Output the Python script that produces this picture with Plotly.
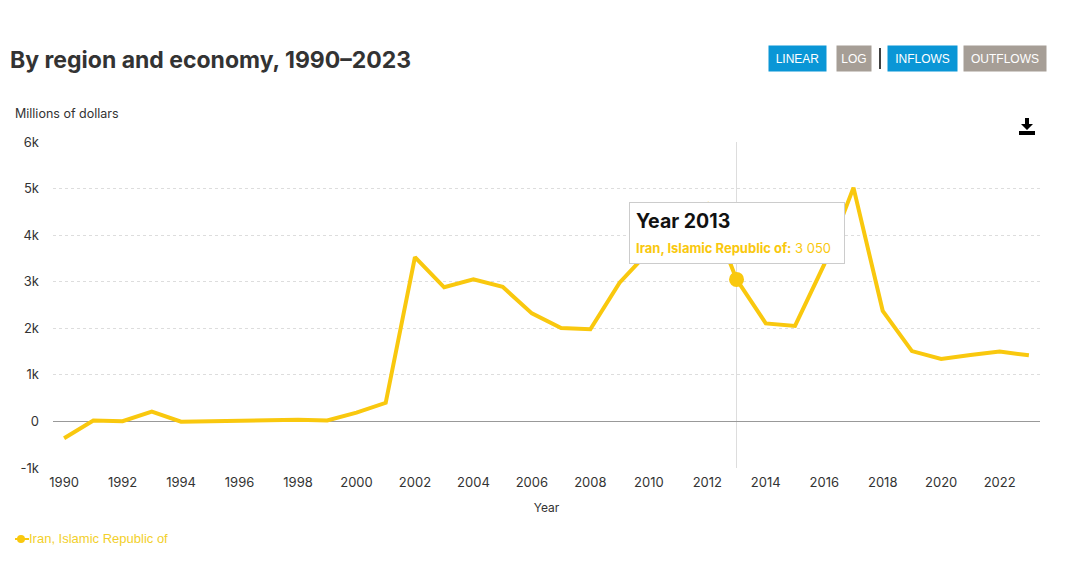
import plotly.graph_objects as go

# Iran FDI inflows, millions of dollars
years = list(range(1990, 2024))
inflows = [-362, 20, 5, 210, -5, 10, 20, 40, 35, 20, 190, 400,
           3530, 2880, 3050, 2890, 2320, 2005, 1980, 2980,
           3650, 4280, 4660, 3050, 2105, 2050, 3370, 5020,
           2375, 1510, 1340, 1425, 1500, 1420]
country = "Iran, Islamic Republic of"
hover_year = 2013
hover_value = 3050

y_ticks = [-1000, 0, 1000, 2000, 3000, 4000, 5000, 6000]
y_ticklabels = ["-1k", "0", "1k", "2k", "3k", "4k", "5k", "6k"]

GOLD = "#f9c80e"
FONT = "Inter, Roboto, sans-serif"

# page has an 8px body margin, so work in screen pixels and shift back
OFF = 8
W, H = 1080 - OFF, 572 - OFF
L, R, T, B = 53, 1040, 142, 468  # plot area on screen


def px(x):
    return (x - L) / (R - L)


def py(y):
    return (B - y) / (B - T)


fig = go.Figure()

fig.add_trace(go.Scatter(x=years, y=inflows, mode="lines", name=country,
                         line=dict(color=GOLD, width=4), showlegend=False,
                         hoverinfo="skip"))

# hovered point
fig.add_trace(go.Scatter(x=[hover_year], y=[hover_value], mode="markers",
                         marker=dict(color=GOLD, size=15), showlegend=False,
                         hoverinfo="skip"))

fig.add_shape(type="line", xref="x", yref="paper", x0=hover_year, x1=hover_year,
              y0=0, y1=1, line=dict(color="#dddddd", width=1), layer="below")

# tooltip
fig.add_annotation(x=hover_year, y=hover_value, xref="x", yref="y",
                   xanchor="center", yanchor="bottom", yshift=15,
                   showarrow=False, align="left", valign="top",
                   width=202, height=48, borderpad=6,
                   bgcolor="white", bordercolor="#cccccc", borderwidth=1,
                   font=dict(family=FONT, size=19.5, color="#111111"),
                   text=f"<b>Year {hover_year}</b><br>"
                        f"<span style='font-size:13px;color:{GOLD}'>"
                        f"<b>{country}:</b> 3 050</span>")

# buttons
buttons = [("LINEAR", 797.5, 57, "#0a96d6"), ("LOG", 854, 32, "#a69e96"),
           ("INFLOWS", 922.5, 69, "#0a96d6"), ("OUTFLOWS", 1005, 82, "#a69e96")]
for label, cx, w, col in buttons:
    fig.add_annotation(x=px(cx), y=py(58.5), xref="paper", yref="paper",
                       xanchor="center", yanchor="middle", showarrow=False,
                       text=label, width=max(w - 8, 26), height=17, borderpad=4,
                       bgcolor=col, font=dict(family="Liberation Sans, Arial", size=12, color="white"))
fig.add_shape(type="line", xref="paper", yref="paper", x0=px(880), x1=px(880),
              y0=py(48), y1=py(69), line=dict(color="black", width=1.5))

# download icon
fig.add_shape(type="path", xref="paper", yref="paper",
              path=(f"M {px(1025)} {py(118)} L {px(1029)} {py(118)} L {px(1029)} {py(124)} "
                    f"L {px(1033)} {py(124)} L {px(1027)} {py(130)} L {px(1021)} {py(124)} "
                    f"L {px(1025)} {py(124)} Z"),
              fillcolor="black", line=dict(width=0))
fig.add_shape(type="rect", xref="paper", yref="paper",
              x0=px(1019), x1=px(1035), y0=py(135), y1=py(131),
              fillcolor="black", line=dict(width=0))

fig.add_annotation(x=px(13), y=py(113), xref="paper", yref="paper",
                   xanchor="left", yanchor="middle", showarrow=False,
                   text="Millions of dollars",
                   font=dict(family=FONT, size=12.5, color="#333333"))

# legend, drawn by hand (symbol overlaps the label like in the original)
fig.add_shape(type="line", xref="paper", yref="paper", x0=px(15), x1=px(29),
              y0=py(539), y1=py(539), line=dict(color=GOLD, width=2))
fig.add_shape(type="circle", xref="paper", yref="paper",
              x0=px(17), x1=px(25), y0=py(535), y1=py(543),
              fillcolor=GOLD, line=dict(width=0))
fig.add_annotation(x=px(27), y=py(538), xref="paper", yref="paper",
                   xanchor="left", yanchor="middle", showarrow=False,
                   text=country,
                   font=dict(family="Liberation Sans, Arial", size=13, color="#f2cf2a"))

fig.update_layout(
    width=W, height=H,
    margin=dict(l=L - OFF, r=1080 - R, t=T - OFF, b=572 - B, autoexpand=False),
    paper_bgcolor="white", plot_bgcolor="white",
    font=dict(family=FONT, size=13, color="#333333"),
    title=dict(text="<b>By region and economy, 1990–2023</b>",
               x=(10 - OFF) / W, xanchor="left", y=1 - (60 - OFF) / H, yanchor="middle",
               font=dict(family=FONT, size=23, color="#333333")),
    xaxis=dict(range=[1989.62, 2023.38], tick0=1990, dtick=2, showgrid=False,
               zeroline=False, showline=False, ticks="", automargin=False,
               ticklabelstandoff=5,
               title=dict(text="Year", standoff=14, font=dict(size=12))),
    yaxis=dict(range=[-1000, 6000], tickvals=y_ticks, ticktext=y_ticklabels,
               showgrid=True, gridcolor="#dddddd", griddash="dot", gridwidth=1,
               zeroline=True, zerolinecolor="#999999", zerolinewidth=1,
               ticklabelstandoff=13, automargin=False),
    showlegend=False,
    hovermode=False,
)

fig.write_html("out.html")
